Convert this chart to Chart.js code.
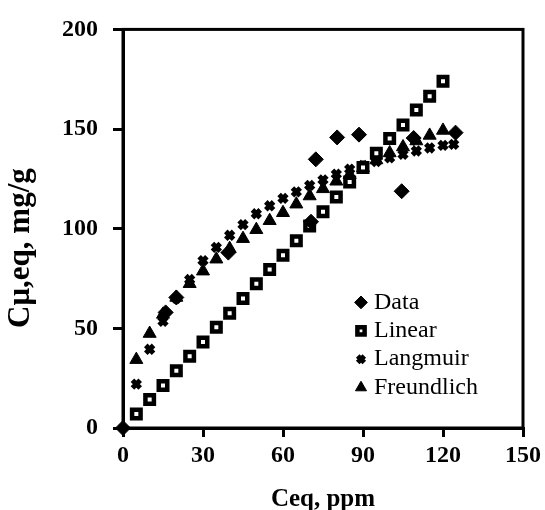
<!DOCTYPE html>
<html>
<head>
<meta charset="utf-8">
<script src="https://cdn.jsdelivr.net/npm/chart.js@4.4.1/dist/chart.umd.min.js"></script>
<style>
  html, body { margin: 0; padding: 0; background: #fff; }
</style>
</head>
<body>
<canvas id="chart" width="545" height="510"></canvas>
<script>
"use strict";

// measured points
const dataX = [0, 16, 20, 39.5, 70.5, 72.3, 80.3, 88.5, 104.5, 109, 124.7];
const dataY = [0, 58, 65.5, 88, 103.5, 134.8, 145.8, 147.2, 118.8, 145.5, 148.2];

// model curves
const modelX = [5, 10, 15, 20, 25, 30, 35, 40, 45, 50, 55, 60, 65, 70, 75, 80, 85, 90, 95, 100, 105, 110, 115, 120];
const linearY = [7, 14.3, 21.3, 28.7, 36, 43.2, 50.6, 57.6, 65, 72.4, 79.5, 86.7, 94, 101.3, 108.5, 115.9, 123.4, 130.7, 137.8, 145.2, 152, 159.5, 166.5, 174];
const langmuirX = [5, 10, 15, 20, 25, 30, 35, 40, 45, 50, 55, 60, 65, 70, 75, 80, 85, 90, 95, 100, 105, 110, 115, 120, 124];
const langmuirY = [22, 39.5, 53.5, 65, 74.5, 84, 90.6, 96.7, 102, 107.5, 111.5, 115.2, 118.5, 121.7, 124.5, 127.4, 129.9, 131.8, 133.7, 135.5, 137.3, 139, 140.5, 141.8, 142.3];
const freundlichY = [34.3, 47.4, 57, 65.5, 72.4, 78.7, 84.7, 90, 95, 99.5, 104, 108, 112.3, 116.4, 120, 123.8, 127.1, 130.5, 134.5, 138, 141, 144, 146.8, 149.3];

const xTicks = [0, 30, 60, 90, 120, 150];
const yTicks = [0, 50, 100, 150, 200];

const serif = '"Times New Roman", "Liberation Serif", serif';

const pairs = (xs, ys) => xs.map((x, i) => ({x: x, y: ys[i]}));

// box round the plot + legend inside it
const frame = {
  id: 'frame',
  beforeDatasetsDraw(chart) {
    const {ctx, chartArea} = chart;
    ctx.save();
    ctx.strokeStyle = '#000';
    ctx.lineWidth = 3;
    ctx.strokeRect(chartArea.left, chartArea.top, chartArea.right - chartArea.left, chartArea.bottom - chartArea.top);
    ctx.restore();
  },
  afterDraw(chart) {
    const {ctx, chartArea} = chart;
    const x0 = chartArea.right - 162;
    const y0 = chartArea.top + 273;
    ctx.save();
    ctx.font = '24px ' + serif;
    ctx.textBaseline = 'middle';
    chart.data.datasets.forEach((ds, i) => {
      const y = y0 + i * 28.4;
      ctx.fillStyle = ds.pointBackgroundColor;
      ctx.strokeStyle = ds.pointBorderColor;
      ctx.lineWidth = ds.pointBorderWidth;
      Chart.helpers.drawPoint(ctx, {pointStyle: ds.pointStyle, radius: ds.pointRadius * 0.85, borderWidth: ds.pointBorderWidth, rotation: 0}, x0, y);
      ctx.fillStyle = '#000';
      ctx.fillText(ds.label, x0 + 13, y);
    });
    ctx.restore();
  }
};

const marker = (style, r, bw, fill) => ({
  pointStyle: style, pointRadius: r, pointBorderWidth: bw,
  pointBackgroundColor: fill, pointBorderColor: '#000',
  showLine: false, clip: false
});

new Chart(document.getElementById('chart'), {
  type: 'scatter',
  data: {
    datasets: [
      Object.assign({label: 'Data', data: pairs(dataX, dataY)}, marker('rectRot', 7.5, 1, '#000')),
      Object.assign({label: 'Linear', data: pairs(modelX, linearY)}, marker('rect', 6, 4.5, '#fff')),
      Object.assign({label: 'Langmuir', data: pairs(langmuirX, langmuirY)}, marker('crossRot', 5.5, 5, '#000')),
      Object.assign({label: 'Freundlich', data: pairs(modelX, freundlichY)}, marker('triangle', 7.5, 1, '#000'))
    ]
  },
  options: {
    responsive: false,
    animation: false,
    layout: {padding: {left: 0, right: 22, top: 24, bottom: 0}},
    plugins: {legend: {display: false}, tooltip: {enabled: false}},
    scales: {
      x: {
        type: 'linear', min: 0, max: 150,
        afterBuildTicks: (s) => { s.ticks = xTicks.map(v => ({value: v})); },
        afterFit: (s) => { s.height = 82; },
        border: {display: true, color: '#000', width: 3},
        grid: {drawOnChartArea: false, drawTicks: true, tickLength: 9, color: '#000', lineWidth: 3},
        ticks: {color: '#000', padding: 4, font: {family: serif, size: 24, weight: 'bold'}},
        title: {display: true, text: 'Ceq, ppm', color: '#000', padding: 0, font: {family: serif, size: 25, weight: 'bold', lineHeight: 0.8}}
      },
      y: {
        type: 'linear', min: 0, max: 200,
        afterBuildTicks: (s) => { s.ticks = yTicks.map(v => ({value: v})); },
        afterFit: (s) => { s.width = 123; },
        border: {display: true, color: '#000', width: 3},
        grid: {drawOnChartArea: false, drawTicks: true, tickLength: 10, color: '#000', lineWidth: 3},
        ticks: {color: '#000', padding: 15, font: {family: serif, size: 24, weight: 'bold'}},
        title: {display: true, text: 'C\u03bc,eq, mg/g\u00a0\u00a0\u00a0\u00a0\u00a0', color: '#000', padding: 5, font: {family: serif, size: 31, weight: 'bold', lineHeight: 1}}
      }
    }
  },
  plugins: [frame]
});
</script>
</body>
</html>
